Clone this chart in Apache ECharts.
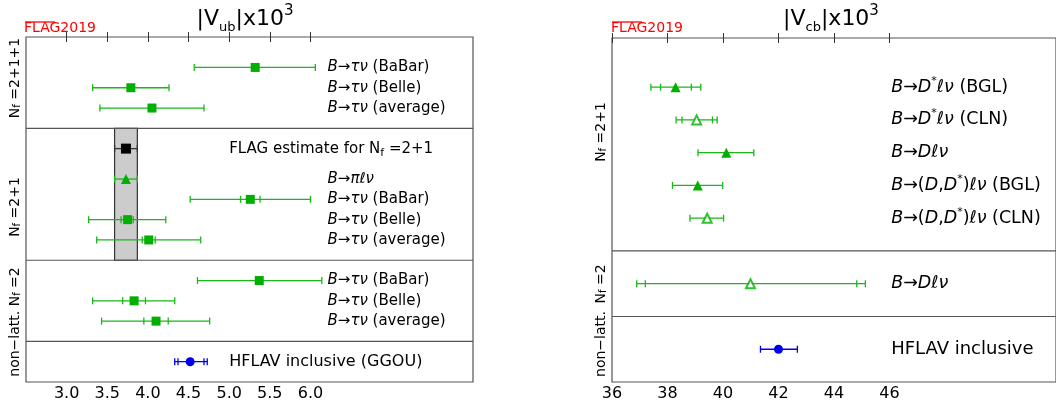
<!DOCTYPE html>
<html><head><meta charset="utf-8">
<script src="https://cdn.jsdelivr.net/npm/echarts@6/dist/echarts.min.js"></script>
<style>html,body{margin:0;padding:0;background:#fff}#c{width:1056px;height:406px}</style>
</head><body><div id="c"></div>
<script>
// ================= DATA: |Vub| x 10^3 =================
const vubLabels = [
  '{i|B}→{i|τν} (BaBar)', '{i|B}→{i|τν} (Belle)', '{i|B}→{i|τν} (average)',
  'FLAG estimate for N{sub|f} =2+1', '{i|B}→{i|πℓν}', '{i|B}→{i|τν} (BaBar)', '{i|B}→{i|τν} (Belle)', '{i|B}→{i|τν} (average)',
  '{i|B}→{i|τν} (BaBar)', '{i|B}→{i|τν} (Belle)', '{i|B}→{i|τν} (average)',
  'HFLAV inclusive (GGOU)'
];
const vubCentral  = [5.32, 3.79, 4.05, 3.73, 3.73, 5.26, 3.75, 4.01, 5.37, 3.83, 4.10, 4.52];
const vubLow      = [4.57, 3.32, 3.41, 3.59, 3.59, 4.52, 3.27, 3.37, 4.61, 3.32, 3.43, 4.33];
const vubHigh     = [6.06, 4.26, 4.69, 3.87, 3.87, 6.00, 4.22, 4.65, 6.14, 4.33, 4.76, 4.73];
const vubStatLow  = [null, null, null, null, null, 5.14, 3.67, 3.93, null, 3.69, 3.95, 4.37];
const vubStatHigh = [null, null, null, null, null, 5.38, 3.82, 4.09, null, 3.97, 4.25, 4.69];
const vubKind     = ['sq', 'sq', 'sq', 'flag', 'tri', 'sq', 'sq', 'sq', 'sq', 'sq', 'sq', 'incl'];
const vubTicks    = [3.0, 3.5, 4.0, 4.5, 5.0, 5.5, 6.0];

// ================= DATA: |Vcb| x 10^3 =================
const vcbLabels = [
  '{i|B}→{i|D}{s|*}{i|ℓν} (BGL)', '{i|B}→{i|D}{s|*}{i|ℓν} (CLN)', '{i|B}→{i|Dℓν}',
  '{i|B}→({i|D},{i|D}{s|*}){i|ℓν} (BGL)', '{i|B}→({i|D},{i|D}{s|*}){i|ℓν} (CLN)',
  '{i|B}→{i|Dℓν}', 'HFLAV inclusive'
];
const vcbCentral  = [38.29, 39.05, 40.12, 39.09, 39.43, 40.99, 42.00];
const vcbLow      = [37.40, 38.31, 39.10, 38.18, 38.81, 36.89, 41.35];
const vcbHigh     = [39.20, 39.79, 41.11, 39.99, 40.02, 45.13, 42.68];
const vcbStatLow  = [37.75, 38.52, null, null, null, 37.20, null];
const vcbStatHigh = [38.86, 39.62, null, null, null, 44.82, null];
const vcbKind     = ['tri', 'otri', 'tri', 'tri', 'otri', 'otri', 'incl'];
const vcbTicks    = [36, 38, 40, 42, 44, 46];

const groupLabelsL = ['N{sub|f} =2+1+1', 'N{sub|f} =2+1', 'non−latt. N{sub|f} =2'];
const groupLabelsR = ['N{sub|f} =2+1', 'N{sub|f} =2', 'non−latt.'];

// ================= LAYOUT (row slots, not data) =================
const layL = { rows: [1.5, 2.5, 3.5, 5.5, 7, 8, 9, 10, 12, 13, 14, 16], seps: [4.5, 11, 15], ymax: 17,
  labelX: [6.21, 6.21, 6.21, 5.0, 6.21, 6.21, 6.21, 6.21, 6.21, 6.21, 6.21, 5.0], band: [4.5, 11],
  fs: [15, 15, 15, 15, 15, 15, 15, 15, 15, 15, 15, 16] };
const layR = { rows: [1.5, 2.5, 3.5, 4.5, 5.5, 7.5, 9.5], seps: [6.5, 8.5], ymax: 10.5, labelX: 46.06,
  fs: [17.5, 17.5, 17.5, 17.5, 17.5, 17.5, 18] };

const GREEN = '#00b000', GLINE = '#18b818', BLUE = '#0000ee', BLACK = '#000';
const kindStyle = {
  sq:   { symbol: 'rect', size: 9, color: GREEN, line: GLINE },
  tri:  { symbol: 'triangle', size: 10, color: GREEN, line: GLINE },
  otri: { symbol: 'emptyTriangle', size: 9, color: GREEN, line: GLINE },
  flag: { symbol: 'rect', size: 10, color: BLACK, line: '#333' },
  incl: { symbol: 'circle', size: 9, color: BLUE, line: BLUE }
};
const FONT = 'DejaVu Sans';
function makeRich(fs) {
  return {
    i: { fontStyle: 'italic', fontFamily: FONT, fontSize: fs, fill: '#000' },
    s: { fontFamily: FONT, fontSize: Math.round(fs * 0.62), verticalAlign: 'top', fill: '#000' },
    sub: { fontFamily: FONT, fontSize: Math.round(fs * 0.7), verticalAlign: 'bottom', fill: '#000' }
  };
}

function errorSeries(gi, low, high, sLow, sHigh, kinds, rows) {
  return {
    type: 'custom', xAxisIndex: gi * 2, yAxisIndex: gi, z: 3,
    data: low.map((l, k) => [l, high[k], rows[k]]),
    renderItem: (params, api) => {
      const k = params.dataIndex;
      const col = kindStyle[kinds[k]].line;
      const y = api.value(2);
      const a = api.coord([api.value(0), y]), b = api.coord([api.value(1), y]);
      const st = { stroke: col, lineWidth: 1.3 };
      const h = 3.5;
      const ch = [
        { type: 'line', shape: { x1: a[0], y1: a[1], x2: b[0], y2: b[1] }, style: st },
        { type: 'line', shape: { x1: a[0], y1: a[1] - h, x2: a[0], y2: a[1] + h }, style: st },
        { type: 'line', shape: { x1: b[0], y1: b[1] - h, x2: b[0], y2: b[1] + h }, style: st }
      ];
      [sLow[k], sHigh[k]].forEach(v => {
        if (v != null) {
          const p = api.coord([v, y]);
          ch.push({ type: 'line', shape: { x1: p[0], y1: p[1] - h, x2: p[0], y2: p[1] + h }, style: st });
        }
      });
      return { type: 'group', children: ch };
    }
  };
}

function markerSeries(gi, central, kinds, rows) {
  const out = [];
  Object.keys(kindStyle).forEach(kd => {
    const d = [];
    central.forEach((c, k) => { if (kinds[k] === kd) d.push([c, rows[k]]); });
    if (!d.length) return;
    const s = kindStyle[kd];
    out.push({
      type: 'scatter', xAxisIndex: gi * 2, yAxisIndex: gi, z: 4, data: d,
      symbol: s.symbol, symbolSize: s.size,
      itemStyle: kd === 'otri' ? { color: s.color, borderColor: s.color, borderWidth: 1.4 } : { color: s.color, opacity: 1 },
      emphasis: { disabled: true }, silent: true
    });
  });
  return out;
}

function sepSeries(gi, seps) {
  return {
    type: 'custom', xAxisIndex: gi * 2, yAxisIndex: gi, z: 2,
    data: seps.map(s => [0, s]),
    renderItem: (params, api) => {
      const cs = params.coordSys;
      const y = api.coord([0, api.value(1)])[1];
      return { type: 'line', shape: { x1: cs.x, y1: y, x2: cs.x + cs.width, y2: y }, style: { stroke: '#555', lineWidth: 1.2 } };
    }
  };
}

function textSeries(gi, labels, xs, rows, fss) {
  return {
    type: 'custom', xAxisIndex: gi * 2, yAxisIndex: gi, z: 5,
    data: labels.map((t, k) => [Array.isArray(xs) ? xs[k] : xs, rows[k]]),
    renderItem: (params, api) => {
      const k = params.dataIndex;
      const p = api.coord([api.value(0), api.value(1)]);
      const fs = fss[k];
      return { type: 'text', x: p[0], y: p[1], style: {
        text: labels[k], fontFamily: FONT, fontSize: fs, fill: '#000', lineHeight: Math.round(fs * 1.35),
        verticalAlign: 'middle', align: 'left', rich: makeRich(fs) } };
    }
  };
}

function xAxes(gi, min, max, interval, ticks, fmt) {
  const common = { gridIndex: gi, type: 'value', min: min, max: max, interval: interval,
    splitLine: { show: false }, axisLine: { show: false } };
  return [
    Object.assign({}, common, { position: 'bottom',
      axisTick: { inside: true, length: 5, customValues: ticks, lineStyle: { color: '#333' } },
      axisLabel: { customValues: ticks, formatter: fmt, fontFamily: FONT, fontSize: 16, color: '#000', margin: 4 } }),
    Object.assign({}, common, { position: 'top',
      axisTick: { inside: true, length: 5, customValues: ticks, lineStyle: { color: '#333' } },
      axisLabel: { show: false } })
  ];
}

const titleRich = {
  m: { fontFamily: FONT, fontSize: 22, lineHeight: 30, fill: '#000' },
  sb: { fontFamily: FONT, fontSize: 13, lineHeight: 20, verticalAlign: 'bottom', fill: '#000' },
  sp: { fontFamily: FONT, fontSize: 15, lineHeight: 11, verticalAlign: 'top', fill: '#000' }
};
function titleText(x, sub) {
  return { type: 'text', x: x, y: 19, style: { text: '{m||V}{sb|' + sub + '}{m||x10}{sp|3}', fontFamily: FONT, fontSize: 22,
    lineHeight: 30, fill: '#000', align: 'center', verticalAlign: 'middle', rich: titleRich } };
}
function groupText(x, y, t) {
  return { type: 'text', x: x, y: y, rotation: Math.PI / 2, style: { text: t, fontFamily: FONT, fontSize: 14, fill: '#000',
    align: 'center', verticalAlign: 'middle', rich: makeRich(14) } };
}

const chart = echarts.init(document.getElementById('c'), null, { renderer: 'canvas' });
const fIdx = 3;
const option = {
  animation: false,
  grid: [
    { left: 26, top: 37, width: 447, height: 345, show: true, borderColor: '#555', borderWidth: 1.2, containLabel: false },
    { left: 612, top: 38, width: 445, height: 344, show: true, borderColor: '#555', borderWidth: 1.2, containLabel: false }
  ],
  xAxis: [].concat(
    xAxes(0, 2.5, 8, 0.5, vubTicks, v => v.toFixed(1)),
    xAxes(1, 36, 52, 2, vcbTicks, v => String(v))
  ),
  yAxis: [
    { gridIndex: 0, type: 'value', min: 0, max: layL.ymax, inverse: true, show: false },
    { gridIndex: 1, type: 'value', min: 0, max: layR.ymax, inverse: true, show: false }
  ],
  series: [
    {
      type: 'custom', xAxisIndex: 0, yAxisIndex: 0, z: 1,
      data: [[vubLow[fIdx], vubHigh[fIdx], layL.band[0], layL.band[1]]],
      renderItem: (params, api) => {
        const a = api.coord([api.value(0), api.value(2)]), b = api.coord([api.value(1), api.value(3)]);
        return { type: 'rect', shape: { x: a[0], y: a[1], width: b[0] - a[0], height: b[1] - a[1] },
          style: { fill: '#cccccc', stroke: '#333', lineWidth: 1.2 } };
      }
    },
    sepSeries(0, layL.seps), sepSeries(1, layR.seps),
    errorSeries(0, vubLow, vubHigh, vubStatLow, vubStatHigh, vubKind, layL.rows),
    errorSeries(1, vcbLow, vcbHigh, vcbStatLow, vcbStatHigh, vcbKind, layR.rows),
    ...markerSeries(0, vubCentral, vubKind, layL.rows),
    ...markerSeries(1, vcbCentral, vcbKind, layR.rows),
    textSeries(0, vubLabels, layL.labelX, layL.rows, layL.fs),
    textSeries(1, vcbLabels, layR.labelX, layR.rows, layR.fs)
  ],
  graphic: [
    titleText(245, 'ub'),
    titleText(831, 'cb'),
    { type: 'text', x: 24, y: 28, style: { text: 'FLAG2019', fontFamily: FONT, fontSize: 14, fill: '#ff0000', verticalAlign: 'middle' } },
    { type: 'line', shape: { x1: 25, y1: 22, x2: 55, y2: 22 }, style: { stroke: '#ff0000', lineWidth: 1.3 } },
    { type: 'text', x: 611, y: 28, style: { text: 'FLAG2019', fontFamily: FONT, fontSize: 14, fill: '#ff0000', verticalAlign: 'middle' } },
    { type: 'line', shape: { x1: 612, y1: 22, x2: 642, y2: 22 }, style: { stroke: '#ff0000', lineWidth: 1.3 } },
    groupText(15, 78, groupLabelsL[0]),
    groupText(15, 207, groupLabelsL[1]),
    groupText(15, 322, groupLabelsL[2]),
    groupText(601, 132, groupLabelsR[0]),
    groupText(601, 284, groupLabelsR[1]),
    groupText(601, 344, groupLabelsR[2])
  ]
};
chart.setOption(option);
</script></body></html>
